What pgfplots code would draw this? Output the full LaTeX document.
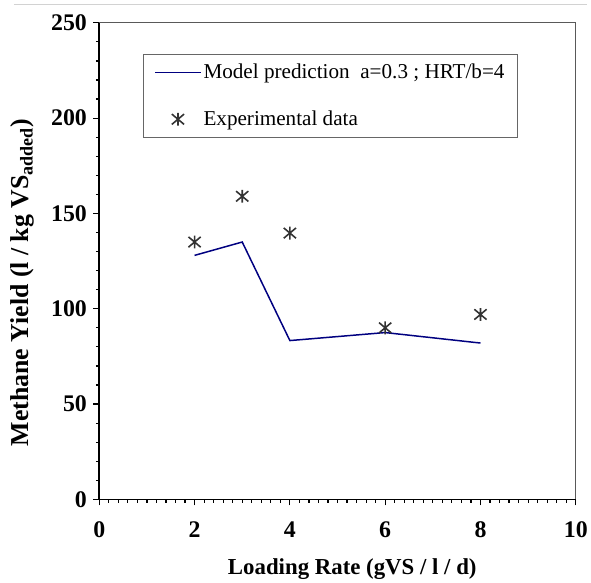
\documentclass[border=0pt]{standalone}
\usepackage{fontspec}
\setmainfont{Liberation Serif}
\usepackage{pgfplots}
\pgfplotsset{compat=1.18}
\definecolor{navyline}{RGB}{0,0,128}
\definecolor{markgray}{RGB}{51,51,51}
\pgfdeclareplotmark{xstar}{%
  \pgfpathmoveto{\pgfqpoint{0pt}{-\pgfplotmarksize}}%
  \pgfpathlineto{\pgfqpoint{0pt}{\pgfplotmarksize}}%
  \pgfpathmoveto{\pgfqpoint{-0.95\pgfplotmarksize}{-0.8\pgfplotmarksize}}%
  \pgfpathlineto{\pgfqpoint{0.95\pgfplotmarksize}{0.8\pgfplotmarksize}}%
  \pgfpathmoveto{\pgfqpoint{-0.95\pgfplotmarksize}{0.8\pgfplotmarksize}}%
  \pgfpathlineto{\pgfqpoint{0.95\pgfplotmarksize}{-0.8\pgfplotmarksize}}%
  \pgfusepathqstroke}
\begin{document}
\begin{tikzpicture}
\begin{axis}[
  scale only axis, width=480pt, height=480pt,
  xmin=0, xmax=10, ymin=0, ymax=250,
  xtick={0,2,...,10}, ytick={0,50,...,250},
  minor x tick num=9, minor y tick num=4,
  axis x line*=bottom, axis y line*=left,
  axis line style={line width=1.6pt, black, -},
  tick align=outside,
  major tick length=6pt, minor tick length=3.5pt,
  every tick/.style={line width=1.2pt, black},
  /pgf/number format/assume math mode=true,
  ticklabel style={font=\fontsize{24}{28}\selectfont\bfseries},
  xticklabel style={yshift=-13pt},
  yticklabel style={xshift=-3pt},
  xlabel={Loading Rate (gVS / l / d)},
  ylabel={Methane Yield (l / kg VS\textsubscript{added})},
  xlabel style={font=\fontsize{23}{27}\selectfont\bfseries, at={(axis description cs:0.531,-0.146)}, anchor=center},
  ylabel style={font=\fontsize{26}{30}\selectfont\bfseries, at={(axis description cs:-0.161,0.455)}, anchor=center},
  clip=false,
  legend style={at={(axis description cs:0.0917,0.935)}, anchor=north west,
    draw=gray!80!black, line width=1pt, font=\fontsize{21.3}{25}\selectfont,
    row sep=27pt, inner xsep=11pt, inner ysep=8pt},
  legend cell align=left,
  legend image code/.code={\draw[mark repeat=2,mark phase=2,#1] plot coordinates {(0pt,0pt) (23pt,0pt) (46pt,0pt)};},
]
\addplot[navyline, line width=1.5pt, mark=none] coordinates {
  (2,128) (3,135) (4,83.3) (6,87.5) (8,82)
};
\addlegendentry{Model prediction\ \ a=0.3 ; HRT/b=4}
\addplot[only marks, mark=xstar, mark size=6.5pt, draw=markgray, line width=1.6pt] coordinates {
  (2,135) (3,159) (4,139.7) (6,90) (8,97)
};
\addlegendentry{Experimental data}
\draw[gray!70!black, line width=1.2pt] (rel axis cs:0,1) -- (rel axis cs:1,1) -- (rel axis cs:1,0);
\draw[gray!35, line width=0.8pt] ([xshift=-86pt,yshift=19pt]rel axis cs:0,1) -- ([xshift=11pt,yshift=19pt]rel axis cs:1,1);
\path ([xshift=-100pt,yshift=-82pt]rel axis cs:0,0) rectangle ([xshift=11pt,yshift=23pt]rel axis cs:1,1);
\end{axis}
\end{tikzpicture}
\end{document}
